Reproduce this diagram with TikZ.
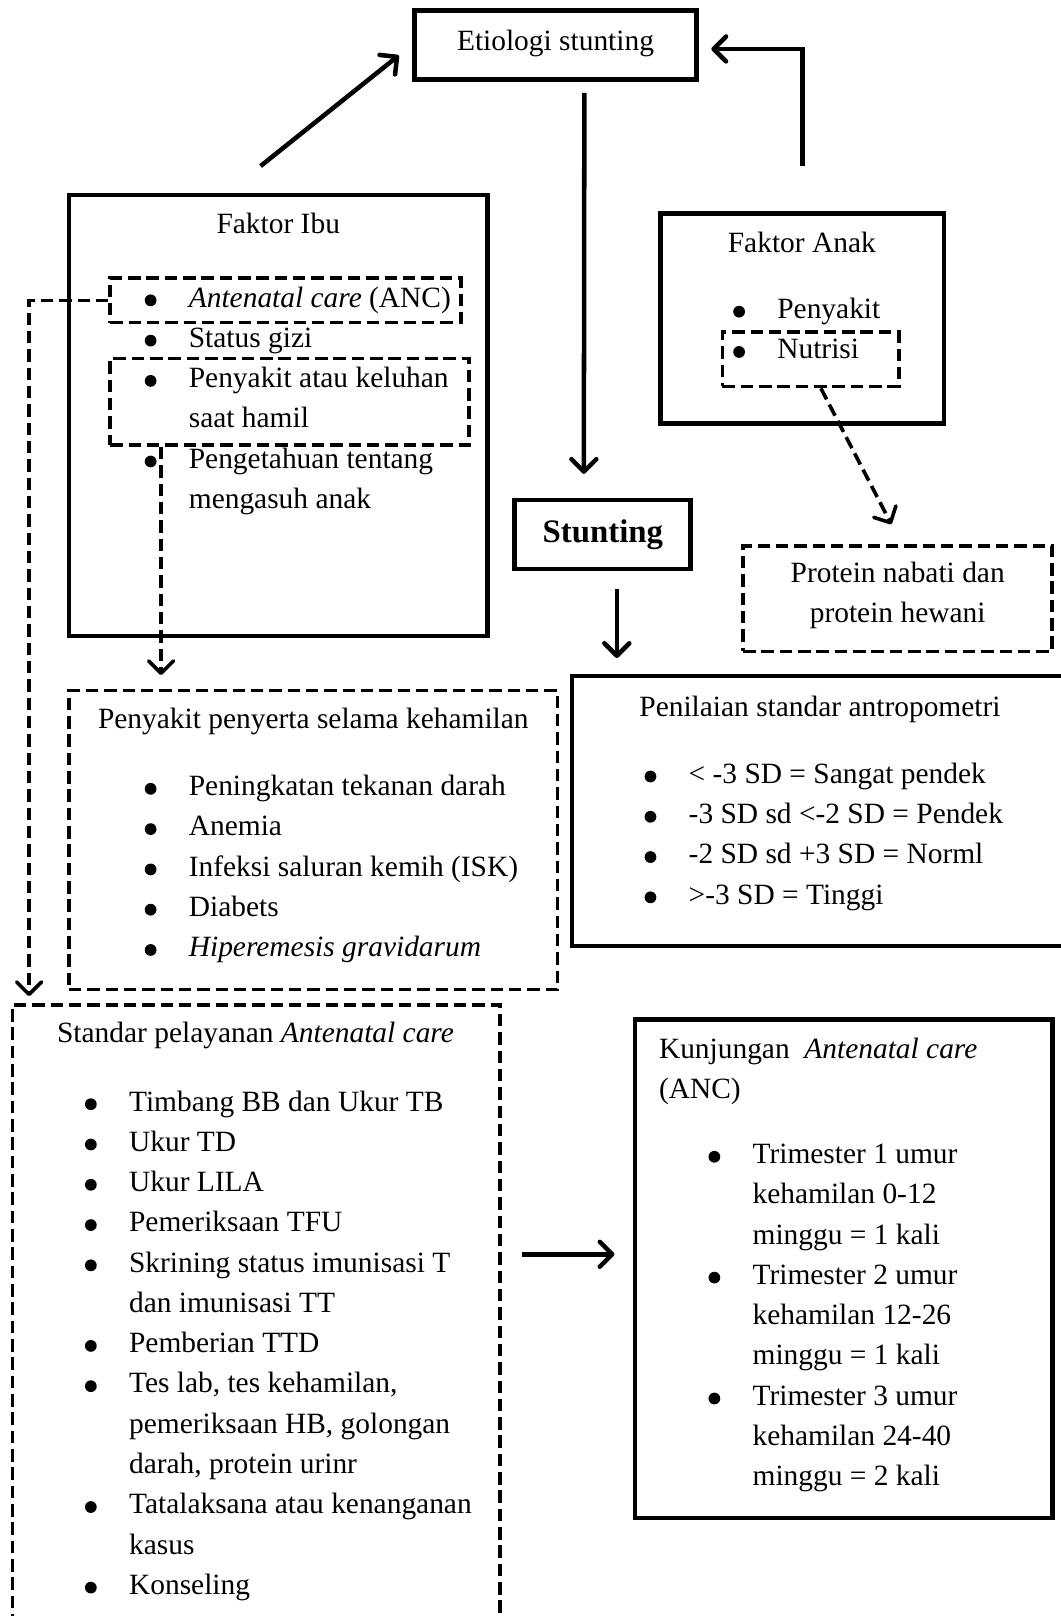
\documentclass[tikz,border=0pt]{standalone}
\usepackage{fontspec}
\setmainfont{Liberation Serif}
\usetikzlibrary{arrows.meta, calc, fit}

\newcommand{\blt}{\tikz[baseline=0pt]\fill (0,3pt) circle (2.6pt);}

\begin{document}
\begin{tikzpicture}[
    x=0.016cm, y=-0.016cm,
    every node/.style={font=\fontsize{13}{17.8}\selectfont},
    box/.style={draw, line width=2pt, inner sep=0pt},
    dbox/.style={draw, line width=1.6pt, dash pattern=on 5.5pt off 2.6pt, inner sep=0pt},
    txt/.style={anchor=base west, inner sep=0pt},
    ctxt/.style={anchor=base, inner sep=0pt},
    arrow/.style={-{Straight Barb[round, length=5.5pt, width=11pt]}, line width=2pt},
    darrow/.style={-{Straight Barb[round, length=5.5pt, width=11pt]}, line width=1.6pt, dash pattern=on 5.5pt off 2.6pt}
]
\useasboundingbox (0,0) rectangle (1029,1568);

% boxes
\node[box, fit={(402,10) (676,77)}] (etio) {};
\node[box, fit={(67,189) (473,617)}] (ibu) {};
\node[dbox, fit={(107,270) (447,313)}] (anc) {};
\node[dbox, fit={(107,348) (455,432)}] (pnykt) {};
\node[box, fit={(641,207) (916,411)}] (anak) {};
\node[dbox, fit={(701,322) (872,375)}] (nutri) {};
\node[box, fit={(499,485) (670,552)}] (stunt) {};
\node[dbox, fit={(721,530) (1021,632)}] (prot) {};
\node[box, fit={(555,656) (1040,918)}] (pnl) {};
\node[dbox, fit={(67,670) (541,960)}] (serta) {};
\node[dbox, fit={(12,975) (485,1590)}] (stand) {};
\node[box, fit={(616,989) (1021,1473)}] (kunj) {};

\node[ctxt] (etiotext) at (539,49) {Etiologi stunting};
\node[ctxt, font=\fontsize{14.5}{17.8}\selectfont\bfseries] (stunttext) at (585,526) {Stunting};

% faktor ibu
\node[ctxt] (ibutitle) at (270,227) {Faktor Ibu};
\node[txt] (ibulist) at (140,298) {\begin{tabular}[t]{@{}p{19.5pt}@{}l@{}}
\blt & \textit{Antenatal care} (ANC)\\
\blt & Status gizi\\
\blt & Penyakit atau keluhan\\
 & saat hamil\\
\blt & Pengetahuan tentang\\
 & mengasuh anak
\end{tabular}};

% faktor anak
\node[ctxt] (anaktitle) at (778,245) {Faktor Anak};
\node[txt] (anaklist) at (711,309) {\begin{tabular}[t]{@{}p{19.5pt}@{}l@{}}
\blt & Penyakit\\
\blt & Nutrisi
\end{tabular}};

\node[ctxt] (prottext) at (871,565) {\begin{tabular}[t]{@{}c@{}}
Protein nabati dan\\
protein hewani
\end{tabular}};

% penilaian
\node[txt] (pnltitle) at (620,695) {Penilaian standar antropometri};
\node[txt] (pnllist) at (625,760) {\begin{tabular}[t]{@{}p{19.5pt}@{}l@{}}
\blt & < -3 SD = Sangat pendek\\
\blt & -3 SD sd <-2 SD = Pendek\\
\blt & -2 SD sd +3 SD = Norml\\
\blt & >-3 SD = Tinggi
\end{tabular}};

% penyakit penyerta
\node[ctxt] (sertatitle) at (304,707) {Penyakit penyerta selama kehamilan};
\node[txt] (sertalist) at (140,772) {\begin{tabular}[t]{@{}p{19.5pt}@{}l@{}}
\blt & Peningkatan tekanan darah\\
\blt & Anemia\\
\blt & Infeksi saluran kemih (ISK)\\
\blt & Diabets\\
\blt & \textit{Hiperemesis gravidarum}
\end{tabular}};

% standar pelayanan
\node[txt] (standtitle) at (55,1012) {Standar pelayanan \textit{Antenatal care}};
\node[txt] (standlist) at (82,1078) {\begin{tabular}[t]{@{}p{19.5pt}@{}l@{}}
\blt & Timbang BB dan Ukur TB\\
\blt & Ukur TD\\
\blt & Ukur LILA\\
\blt & Pemeriksaan TFU\\
\blt & Skrining status imunisasi T\\
 & dan imunisasi TT\\
\blt & Pemberian TTD\\
\blt & Tes lab, tes kehamilan,\\
 & pemeriksaan HB, golongan\\
 & darah, protein urinr\\
\blt & Tatalaksana atau kenanganan\\
 & kasus\\
\blt & Konseling
\end{tabular}};

% kunjungan
\node[txt] (kunjtitle) at (639,1027) {\begin{tabular}[t]{@{}l@{}}
Kunjungan~ \textit{Antenatal care}\\
(ANC)
\end{tabular}};
\node[txt] (kunjlist) at (687,1129) {\begin{tabular}[t]{@{}p{19.5pt}@{}l@{}}
\blt & Trimester 1 umur\\
 & kehamilan 0-12\\
 & minggu = 1 kali\\
\blt & Trimester 2 umur\\
 & kehamilan 12-26\\
 & minggu = 1 kali\\
\blt & Trimester 3 umur\\
 & kehamilan 24-40\\
 & minggu = 2 kali
\end{tabular}};

% connectors
\coordinate (ancdrop) at ($(stand.north west)+(18,0)$);
\coordinate (pnyktdrop) at ($(pnykt.south west)+(51,0)$);
\coordinate (stuntdrop) at ($(stunt.south)+(14,0)$);
\coordinate (kunjin) at ($(kunj.west)+(0,-14)$);

\draw[arrow, shorten <=18.7pt, shorten >=7.5pt] ($(ibu.north west)!0.38!(ibu.north east)$) -- (etio.west);
\draw[arrow] ($(anak.north)+(0,-44)$) |- ($(etio.east)+(12,4)$);
\draw[arrow] ($(etio.south)+(28,11)$) -- ($(stunt.north)+(-18,-23)$);
\draw[arrow, shorten <=8pt, shorten >=7pt] (stuntdrop) -- (stuntdrop |- pnl.north);
\draw[arrow, shorten <=9pt, shorten >=8pt] (stand.east |- kunjin) -- (kunjin);

\draw[darrow, shorten >=3pt] (anc.west) -| (ancdrop);
\draw[darrow, shorten >=6pt] (pnyktdrop) -- (pnyktdrop |- serta.north);
\draw[darrow, shorten >=10pt] ($(nutri.south)+(10,0)$) -- ($(prot.north)+(4,0)$);
\end{tikzpicture}
\end{document}
